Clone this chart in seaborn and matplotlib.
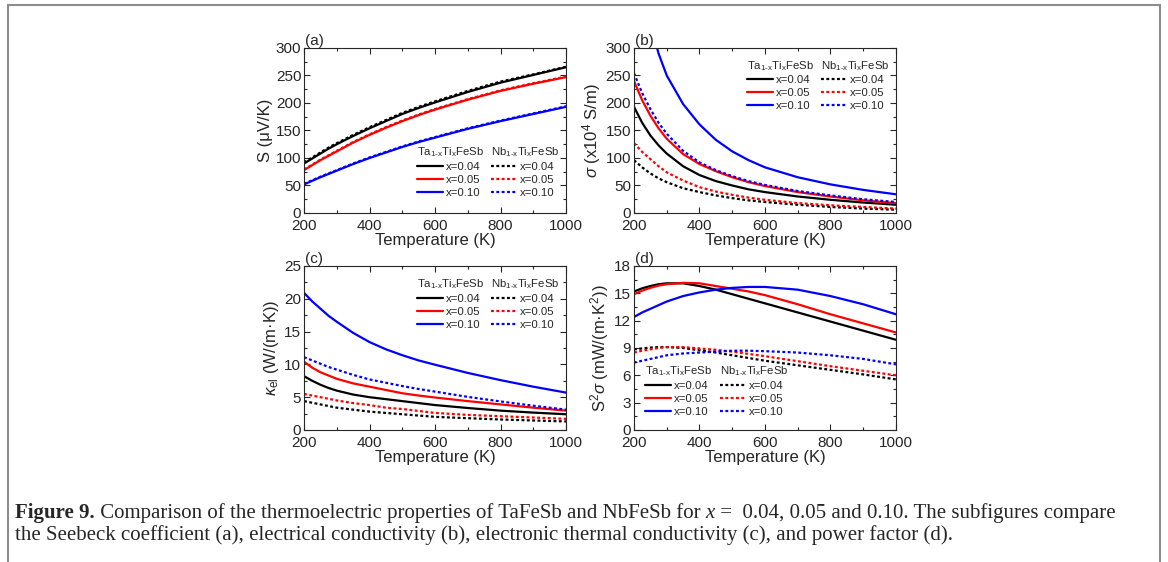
import numpy as np
import pandas as pd
import matplotlib
matplotlib.use("Agg")
import matplotlib.pyplot as plt
import seaborn as sns
from matplotlib.lines import Line2D
from matplotlib.patches import Rectangle
from matplotlib.ticker import MultipleLocator

# temperature grid (K)
temp = [200, 225, 250, 275, 300, 350, 400, 450, 500, 550, 600, 700, 800, 900, 1000]

# (a) Seebeck coefficient (uV/K)
S_ta04 = [90, 99, 108, 117, 125, 140, 154, 167, 180, 191, 201, 220, 237, 251, 265]
S_ta05 = [78, 87, 96, 104, 112, 128, 142, 155, 167, 178, 188, 206, 222, 235, 247]
S_ta10 = [52, 58.5, 65, 71, 77, 89, 100, 110, 120, 129, 137, 153, 167, 180, 193]
S_nb04 = [92, 101, 110, 119, 127, 142, 156, 169, 182, 193, 203, 222, 239, 252, 266]
S_nb05 = [79, 88, 97, 105, 113, 129, 143, 156, 168, 179, 189, 207, 223, 236, 248]
S_nb10 = [53, 59.5, 66, 72, 78, 90, 101, 111, 121, 130, 138, 154, 168, 181, 194]

# (b) electrical conductivity (x10^4 S/m)
sig_ta04 = [193, 164, 141, 123, 108, 85, 69, 58, 50, 43, 38, 30, 24, 19, 15]
sig_ta05 = [240, 205, 177, 154, 135, 107, 89, 76, 65, 56, 49, 38, 30, 23, 18]
sig_ta10 = [480, 405, 345, 290, 250, 198, 161, 133, 112, 96, 83, 65, 52, 42, 34]
sig_nb04 = [96, 83, 72, 63, 56, 45, 38, 32, 27, 23, 20, 15, 11, 8, 6]
sig_nb05 = [127, 111, 98, 85, 74, 59, 47, 39, 33, 28, 24, 18, 14, 11, 8]
sig_nb10 = [254, 218, 189, 164, 144, 113, 92, 78, 67, 58, 51, 40, 32, 25, 20]

# (c) electronic thermal conductivity (W/(m K))
k_ta04 = [8.2, 7.5, 6.9, 6.4, 6.0, 5.4, 5.0, 4.7, 4.4, 4.1, 3.8, 3.35, 2.95, 2.65, 2.4]
k_ta05 = [10.4, 9.5, 8.8, 8.3, 7.8, 7.1, 6.6, 6.1, 5.6, 5.25, 4.95, 4.4, 3.9, 3.4, 2.95]
k_ta10 = [20.9, 19.6, 18.5, 17.4, 16.5, 14.8, 13.4, 12.3, 11.4, 10.6, 9.95, 8.7, 7.6, 6.6, 5.7]
k_nb04 = [4.4, 4.15, 3.9, 3.65, 3.4, 3.1, 2.8, 2.6, 2.4, 2.2, 2.0, 1.8, 1.6, 1.45, 1.3]
k_nb05 = [5.5, 5.25, 5.0, 4.75, 4.5, 4.1, 3.8, 3.4, 3.2, 2.9, 2.6, 2.3, 2.1, 1.9, 1.7]
k_nb10 = [11.1, 10.6, 10.1, 9.6, 9.2, 8.4, 7.7, 7.2, 6.7, 6.25, 5.85, 5.05, 4.35, 3.7, 3.1]

# (d) power factor (mW/(m K^2))
pf_ta04 = [15.2, 15.55, 15.8, 16.0, 16.1, 16.1, 15.8, 15.4, 14.9, 14.4, 13.9, 12.9, 11.9, 10.9, 9.9]
pf_ta05 = [14.9, 15.3, 15.6, 15.85, 16.0, 16.15, 16.1, 15.8, 15.5, 15.2, 14.8, 13.8, 12.7, 11.7, 10.7]
pf_ta10 = [12.4, 12.9, 13.3, 13.7, 14.1, 14.7, 15.1, 15.4, 15.6, 15.7, 15.7, 15.4, 14.7, 13.8, 12.7]
pf_nb04 = [8.85, 8.95, 9.05, 9.1, 9.1, 9.0, 8.75, 8.5, 8.2, 7.9, 7.6, 7.1, 6.6, 6.1, 5.55]
pf_nb05 = [8.5, 8.7, 8.85, 9.0, 9.1, 9.1, 8.95, 8.8, 8.6, 8.35, 8.1, 7.55, 7.0, 6.5, 6.0]
pf_nb10 = [7.4, 7.6, 7.8, 8.0, 8.2, 8.4, 8.5, 8.6, 8.7, 8.7, 8.65, 8.5, 8.2, 7.8, 7.2]

conc = ["x=0.04", "x=0.05", "x=0.10"]
colors = ["black", "red", "blue"]
ta_name = r"Ta$_{\text{1-x}}$Ti$_{\text{x}}$FeSb"
nb_name = r"Nb$_{\text{1-x}}$Ti$_{\text{x}}$FeSb"


def long_table(ta, nb):
    rows = []
    for lab, ys in zip(conc, ta):
        for t, v in zip(temp, ys):
            rows.append((t, v, lab, "Ta"))
    for lab, ys in zip(conc, nb):
        for t, v in zip(temp, ys):
            rows.append((t, v, lab, "Nb"))
    return pd.DataFrame(rows, columns=["T", "val", "conc", "host"])


sns.set_style("ticks")
plt.rcParams["font.family"] = ["Liberation Sans", "DejaVu Sans"]
plt.rcParams["mathtext.fontset"] = "custom"
plt.rcParams["mathtext.rm"] = "Liberation Sans"
plt.rcParams["mathtext.it"] = "Liberation Sans:italic"
plt.rcParams["mathtext.bf"] = "Liberation Sans:bold"
plt.rcParams["axes.linewidth"] = 0.8

fig = plt.figure(figsize=(11.68, 5.62), dpi=100)

panels = [
    dict(pos=[0.2603, 0.6210, 0.2243, 0.2936], ta=[S_ta04, S_ta05, S_ta10],
         nb=[S_nb04, S_nb05, S_nb10], ylim=(0, 300), ystep=50,
         ylabel="S (\u03bcV/K)", tag="(a)", leg=(0.431, 0.714, 0.41)),
    dict(pos=[0.5428, 0.6210, 0.2243, 0.2936], ta=[sig_ta04, sig_ta05, sig_ta10],
         nb=[sig_nb04, sig_nb05, sig_nb10], ylim=(0, 300), ystep=50,
         ylabel=r"$\sigma$ (x10$^4$ S/m)", tag="(b)", leg=(0.431, 0.714, 0.935)),
    dict(pos=[0.2603, 0.2349, 0.2243, 0.2918], ta=[k_ta04, k_ta05, k_ta10],
         nb=[k_nb04, k_nb05, k_nb10], ylim=(0, 25), ystep=5,
         ylabel=r"$\kappa_{\mathrm{el}}$ (W/(m" + "\u00b7" + "K))", tag="(c)",
         leg=(0.431, 0.714, 0.93)),
    dict(pos=[0.5428, 0.2349, 0.2243, 0.2918], ta=[pf_ta04, pf_ta05, pf_ta10],
         nb=[pf_nb04, pf_nb05, pf_nb10], ylim=(0, 18), ystep=3,
         ylabel=r"S$^2\sigma$ (mW/(m" + "\u00b7" + r"K$^2$))", tag="(d)",
         leg=(0.042, 0.328, 0.40)),
]

dotted = (1.3, 1.1)

for p in panels:
    ax = fig.add_axes(p["pos"])
    df = long_table(p["ta"], p["nb"])
    sns.lineplot(data=df, x="T", y="val", hue="conc", style="host",
                 palette=dict(zip(conc, colors)),
                 dashes={"Ta": "", "Nb": dotted}, linewidth=1.6,
                 legend=False, ax=ax, estimator=None, sort=False)
    ax.set_xlim(200, 1000)
    ax.set_ylim(*p["ylim"])
    ax.xaxis.set_major_locator(MultipleLocator(200))
    ax.xaxis.set_minor_locator(MultipleLocator(100))
    ax.yaxis.set_major_locator(MultipleLocator(p["ystep"]))
    ax.yaxis.set_minor_locator(MultipleLocator(p["ystep"] / 2))
    ax.tick_params(which="both", direction="in", top=True, right=True,
                   labelsize=11, width=0.8)
    ax.tick_params(axis="x", pad=4)
    ax.tick_params(axis="y", pad=2)
    ax.tick_params(which="major", length=4)
    ax.tick_params(which="minor", length=2)
    ax.set_xlabel("Temperature (K)", fontsize=12, labelpad=0)
    ax.set_ylabel(p["ylabel"], fontsize=12, labelpad=2)
    ax.text(0.005, 1.0, p["tag"], transform=ax.transAxes, fontsize=11,
            ha="left", va="bottom")

    x1, x2, ytop = p["leg"]
    legs = []
    for name, ls, xa in [(ta_name, "-", x1), (nb_name, (0, dotted), x2)]:
        handles = [Line2D([], [], color=c, lw=1.6, linestyle=ls) for c in colors]
        leg = ax.legend(handles, conc, title=name, loc="upper left",
                        bbox_to_anchor=(xa, ytop), frameon=False, fontsize=8.2,
                        title_fontsize=8.2, alignment="left", handlelength=2.3,
                        handletextpad=0.2, labelspacing=0.25, borderpad=0,
                        borderaxespad=0)
        legs.append(leg)
    ax.add_artist(legs[0])

# caption, built piece by piece so each part keeps its own weight/style
serif = ["Liberation Serif", "DejaVu Serif"]
cap_fs = 15
cap1 = fig.text(0.0128, 0.078, "Figure 9.", family=serif, fontweight="bold",
                fontsize=cap_fs, ha="left", va="baseline")
cap2 = fig.add_artist(plt.Annotation(
    " Comparison of the thermoelectric properties of TaFeSb and NbFeSb for ",
    xy=(1, 0), xycoords=cap1, ha="left", va="bottom", family=serif, fontsize=cap_fs))
cap3 = fig.add_artist(plt.Annotation(
    "x", xy=(1, 0), xycoords=cap2, ha="left", va="bottom", family=serif,
    style="italic", fontsize=cap_fs))
fig.add_artist(plt.Annotation(
    " =  0.04, 0.05 and 0.10. The subfigures compare",
    xy=(1, 0), xycoords=cap3, ha="left", va="bottom", family=serif, fontsize=cap_fs))
fig.text(0.0128, 0.040, "the Seebeck coefficient (a), electrical conductivity (b), "
         "electronic thermal conductivity (c), and power factor (d).",
         family=serif, fontsize=cap_fs, ha="left", va="baseline")

# frame around the figure
fig.add_artist(Rectangle((8 / 1168, -0.05), 1152 / 1168, 1.05 - 5 / 562,
                         transform=fig.transFigure, fill=False,
                         edgecolor="#8c8c8c", linewidth=1.5))

fig.savefig("out.png", dpi=100)
